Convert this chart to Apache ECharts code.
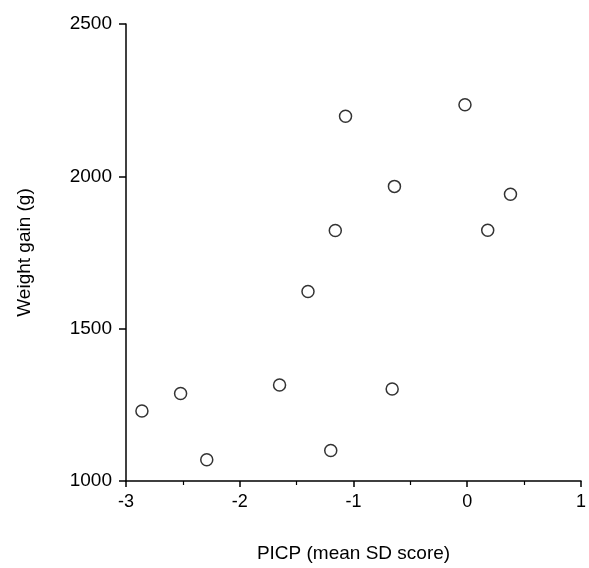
<!DOCTYPE html>
<html><head><meta charset="utf-8">
<script src="https://cdn.jsdelivr.net/npm/echarts@6/dist/echarts.min.js"></script>
<style>html,body{margin:0;padding:0;background:#fff}#c{width:589px;height:568px}</style>
</head><body><div id="c"></div>
<script>
const picp = [-2.86, -2.52, -2.29, -1.65, -1.40, -1.16, -1.07, -1.20, -0.64, -0.66, -0.02, 0.18, 0.38];
const weightGain = [1230, 1287, 1070, 1315, 1622, 1822, 2197, 1100, 1967, 1302, 2235, 1823, 1941];
const xName = 'PICP (mean SD score)';
const yName = 'Weight gain (g)';
const data = picp.map((x, i) => [x, weightGain[i]]);
const font = 'Liberation Sans, Arial, sans-serif';
const chart = echarts.init(document.getElementById('c'));
chart.setOption({
  animation: false,
  grid: {left: 126, right: 6, top: 24, bottom: 82, containLabel: false},
  xAxis: {
    type: 'value', min: -3, max: 1, interval: 1,
    name: xName, nameLocation: 'middle', nameGap: 63,
    nameTextStyle: {color: '#000', fontSize: 19, fontFamily: font},
    axisLine: {show: true, onZero: false, lineStyle: {color: '#000', width: 1.5}},
    axisTick: {show: true, inside: false, length: 6, lineStyle: {color: '#000', width: 1.5}},
    minorTick: {show: true, splitNumber: 2, length: 4, lineStyle: {color: '#000', width: 1.2}},
    axisLabel: {color: '#000', fontSize: 18, fontFamily: font, margin: 12},
    splitLine: {show: false}
  },
  yAxis: {
    type: 'value', min: 1000, max: 2500, interval: 500,
    name: yName, nameLocation: 'middle', nameGap: 92,
    nameTextStyle: {color: '#000', fontSize: 19, fontFamily: font},
    axisLine: {show: true, onZero: false, lineStyle: {color: '#000', width: 1.5}},
    axisTick: {show: true, inside: false, length: 7, lineStyle: {color: '#000', width: 1.5}},
    axisLabel: {color: '#000', fontSize: 19, fontFamily: font, margin: 14, formatter: v => String(v)},
    splitLine: {show: false}
  },
  series: [{
    type: 'scatter', data: data, symbol: 'circle', symbolSize: 12,
    itemStyle: {color: '#fff', borderColor: '#000', borderWidth: 1.5}
  }]
});
</script></body></html>
